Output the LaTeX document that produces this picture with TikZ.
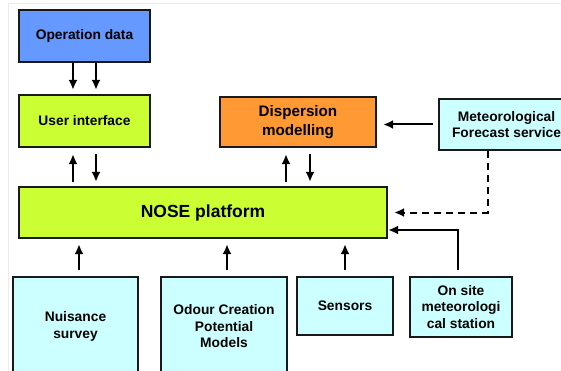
\documentclass[tikz,border=0pt]{standalone}
\usepackage{fontspec}
\setmainfont{Liberation Sans}
\usetikzlibrary{arrows.meta}
\definecolor{opblue}{HTML}{6699FF}
\definecolor{lime}{HTML}{CCFF33}
\definecolor{dispor}{HTML}{FF9933}
\definecolor{pale}{HTML}{CCFFFF}
\newcommand{\flow}{\draw[-{Latex[length=10pt,width=9pt]},line width=2pt]}

\begin{document}
\begin{tikzpicture}[x=1pt,y=-1pt,
    box/.style={draw=black!90,line width=2.3pt,inner sep=0pt,align=center,
      font=\bfseries\fontsize{13.8}{16.5}\selectfont}]
      \useasboundingbox (0,0) rectangle (561,371);
      \clip (0,0) rectangle (561,371);
      \draw[black!8,line width=0.6pt] (8,371) -- (8,3) -- (561,3);

      % top row
      \node(op)   [box,fill=opblue,minimum width=131pt,minimum height=52pt] at (84.5,36) {Operation data};
      \node(ui)   [box,fill=lime,minimum width=131pt,minimum height=52pt] at (84.5,121) {User interface};
      \node(disp) [box,fill=dispor,minimum width=156pt,minimum height=50pt,
                   font=\bfseries\fontsize{15.2}{19}\selectfont] at (298,122) {Dispersion\\modelling};
      \node(met)  [box,fill=pale,minimum width=135pt,minimum height=51pt] at (506.5,124.5) {Meteorological\\Forecast service};

      % platform
      \node(nose) [box,fill=lime,minimum width=368pt,minimum height=51pt,
                   font=\bfseries\fontsize{17.5}{20}\selectfont] at (203,212.5) {NOSE platform};

      % bottom row
      \node(nuis)   [box,fill=pale,minimum width=125pt,minimum height=99pt] at (75.5,326.5) {Nuisance\\survey};
      \node(odour)  [box,fill=pale,minimum width=126pt,minimum height=99pt] at (224,326.5) {Odour Creation\\Potential\\Models};
      \node(sens)   [box,fill=pale,minimum width=96pt,minimum height=58pt] at (345,306) {Sensors};
      \node(onsite) [box,fill=pale,minimum width=102pt,minimum height=60pt] at (461,307) {On site\\meteorologi\\cal station};

      \coordinate (opL) at ([xshift=-11.5pt]op.south);
      \coordinate (opR) at ([xshift=11.5pt]op.south);
      \coordinate (uiL) at ([xshift=-11.5pt]ui.south);
      \coordinate (uiR) at ([xshift=11.5pt]ui.south);
      \coordinate (dpL) at ([xshift=-12pt]disp.south);
      \coordinate (dpR) at ([xshift=12pt]disp.south);
      \coordinate (metD) at ([xshift=-18.5pt]met.south);
      \coordinate (noseE) at ([yshift=-17.5pt]nose.east);

      \flow[shorten >=4pt] (opL) -- (opL |- ui.north);
      \flow[shorten >=4pt] (opR) -- (opR |- ui.north);

      \flow[shorten <=4pt,shorten >=6pt] (uiL |- nose.north) -- (uiL);
      \flow[shorten <=6pt,shorten >=4pt] (uiR) -- (uiR |- nose.north);
      \flow[shorten <=4pt,shorten >=6pt] (dpL |- nose.north) -- (dpL);
      \flow[shorten <=6pt,shorten >=4pt] (dpR) -- (dpR |- nose.north);

      \flow[shorten <=5pt,shorten >=6pt] (met.west) -- (met.west -| disp.east);
      \flow[dash pattern=on 7pt off 5pt,shorten >=6pt] (metD) |- (nose.east);
      \flow[shorten <=6pt] ([xshift=-3pt]onsite.north) |- (noseE);

      \flow[shorten <=6pt,shorten >=5pt] ([xshift=3.5pt]nuis.north) -- ([xshift=3.5pt]nuis.north |- nose.south);
      \flow[shorten <=6pt,shorten >=5pt] ([xshift=3pt]odour.north) -- ([xshift=3pt]odour.north |- nose.south);
      \flow[shorten <=6pt,shorten >=5pt] (sens.north) -- (sens.north |- nose.south);
   \end{tikzpicture}
\end{document}
